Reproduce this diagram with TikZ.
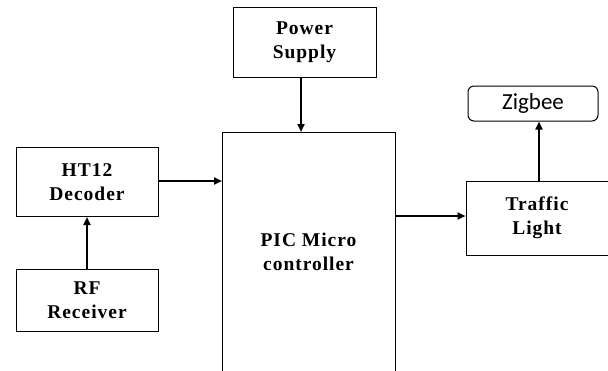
\documentclass[tikz,border=0pt]{standalone}
\usepackage{fontspec}
\setmainfont{Liberation Serif}
\newfontfamily\blkfont[LetterSpace=5]{Liberation Serif}
\newfontfamily\zigfont{Carlito}
\usetikzlibrary{arrows.meta}
\begin{document}
\begin{tikzpicture}[x=1pt,y=-1pt,
  txt/.style={font=\blkfont\bfseries\fontsize{19.5}{24}\selectfont, align=center},
  blk/.style={txt, draw, line width=1pt, inner sep=0pt},
  conn/.style={line width=2pt, -{Triangle[length=8pt,width=7pt]}}]
\useasboundingbox (0,0) rectangle (608,370);
\node[blk, minimum width=142pt, minimum height=69pt] (ht) at (87,182) {HT12\\Decoder};
\node[blk, minimum width=142pt, minimum height=62pt] (rf) at (87,300) {RF\\Receiver};
\node[blk, minimum width=143pt, minimum height=70pt] (ps) at (304.5,42) {Power\\Supply};
\node[blk, minimum width=142pt, minimum height=74pt] (tl) at (537,218) {Traffic\\Light};
\node[draw, line width=1pt, rounded corners=6pt, minimum width=130pt, minimum height=35pt, inner sep=0pt, font=\zigfont\fontsize{23}{25}\selectfont] (zb) at (533,103.5) {Zigbee};
\draw[line width=1pt] (222,372) -- (222,132) coordinate (pictl) -- (395,132) coordinate (pictr) -- (395,372);
\node[txt] (pic) at (308.5,252) {PIC Micro\\controller};
\coordinate (picin1) at (222,181);
\coordinate (picin2) at (301,132);
\coordinate (picout) at (395,216);
\draw[conn] (rf.north) -- (ht.south);
\draw[conn] (ht.east |- picin1) -- (picin1);
\draw[conn] (ps.south -| picin2) -- (picin2);
\draw[conn] (picout) -- (tl.west |- picout);
\draw[conn] (tl.north -| 539,0) -- (zb.south -| 539,0);
\end{tikzpicture}
\end{document}
